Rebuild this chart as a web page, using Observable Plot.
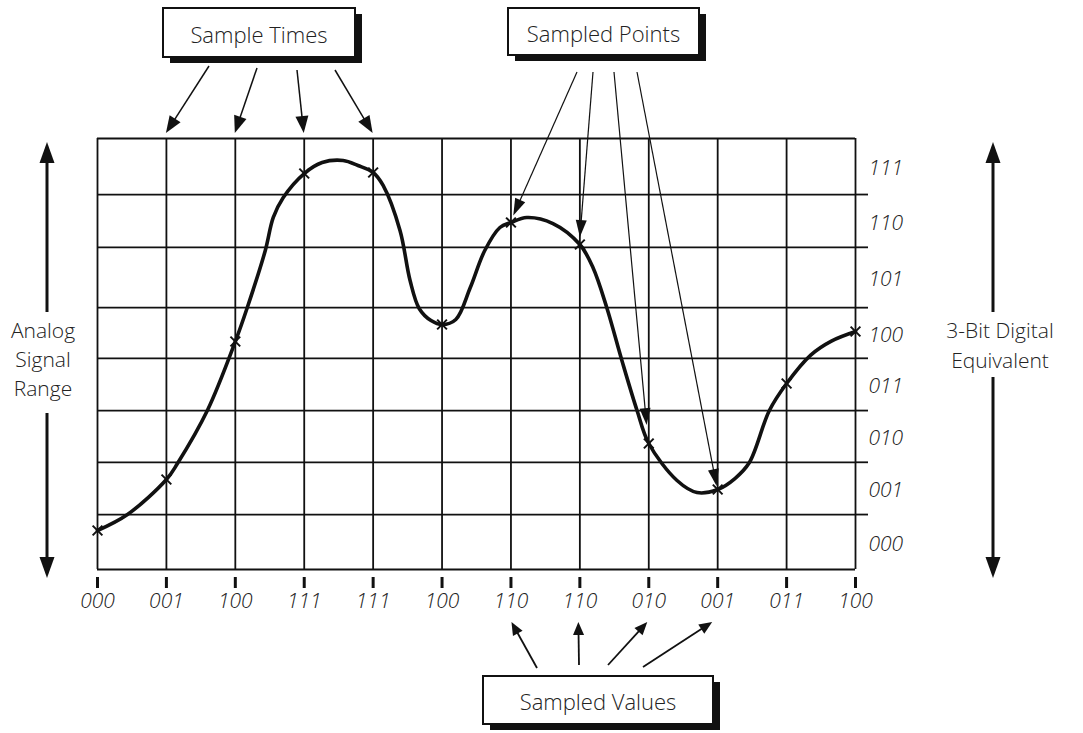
<!DOCTYPE html>
<html>
<head>
<meta charset="utf-8">
<script src="https://cdn.jsdelivr.net/npm/d3@7"></script>
<script src="https://cdn.jsdelivr.net/npm/@observablehq/plot@0.6"></script>
<style>
  html, body { margin: 0; padding: 0; background: #fff; }
  #chart svg { display: block; }
</style>
</head>
<body>
<div id="chart"></div>
<script>
// ---------------- data ----------------
const sampleTimes  = [0, 1, 2, 3, 4, 5, 6, 7, 8, 9, 10, 11];
const sampleValues = [0.724, 1.670, 4.232, 7.350, 7.369, 4.547, 6.441, 6.032, 2.339, 1.485, 3.452, 4.418];
const sampleCodes  = ["000", "001", "100", "111", "111", "100", "110", "110", "010", "001", "011", "100"];

const levelEdges = [0, 1.02, 1.99, 2.95, 3.92, 4.86, 5.98, 6.96, 8];
const levelCodes = ["000", "001", "010", "011", "100", "101", "110", "111"];

const curveTimes  = [0, 0.435, 1, 1.16, 1.594, 2, 2.174, 2.435, 2.551, 2.696, 3, 3.26, 3.565, 3.78, 4,
                     4.145, 4.39, 4.536, 4.67, 4.84, 5, 5.2, 5.41, 5.62, 5.84, 6, 6.23, 6.61, 7, 7.19, 7.39,
                     7.61, 7.83, 8, 8.41, 8.70, 9, 9.25, 9.46, 9.75, 10, 10.35, 10.65, 11];
const curveValues = [0.724, 1.021, 1.670, 1.967, 2.951, 4.232, 4.863, 5.921, 6.534, 6.905, 7.350, 7.554, 7.592, 7.499, 7.369,
                     7.128, 6.292, 5.364, 4.84, 4.62, 4.547, 4.64, 5.234, 5.921, 6.348, 6.441, 6.534, 6.422, 6.032, 5.605, 4.863,
                     3.879, 2.951, 2.339, 1.652, 1.429, 1.485, 1.689, 1.986, 2.951, 3.452, 3.98, 4.24, 4.418];

const timeArrowSamples  = [1, 2, 3, 4];   // samples pointed at by "Sample Times"
const pointArrowSamples = [6, 7, 8, 9];   // samples pointed at by "Sampled Points" / "Sampled Values"
const boxLabels  = ["Sample Times", "Sampled Points", "Sampled Values"];
const leftLabel  = ["Analog", "Signal", "Range"];
const rightLabel = ["3-Bit Digital", "Equivalent"];

// ---------------- derived tables ----------------
const samples = sampleTimes.map((t, i) => ({t, v: sampleValues[i], code: sampleCodes[i]}));
const curve = curveTimes.map((t, i) => ({t, v: curveValues[i]}));
const bands = levelCodes.map((code, i) => ({code, mid: (levelEdges[i] + levelEdges[i + 1]) / 2}));
const innerEdges = levelEdges.slice(1, -1);

const FONT = "'Open Sans', 'DejaVu Sans', sans-serif";
const INK = "#111";
const TXT = "#222";

function arrow(g, x1, y1, x2, y2, len, w, sw) {
  const dx = x2 - x1, dy = y2 - y1, L = Math.hypot(dx, dy), ux = dx / L, uy = dy / L;
  const bx = x2 - ux * len, by = y2 - uy * len;
  g.append("line").attr("x1", x1).attr("y1", y1).attr("x2", bx + ux).attr("y2", by + uy)
    .attr("stroke", INK).attr("stroke-width", sw);
  g.append("path")
    .attr("d", `M${x2},${y2}L${bx - uy * w / 2},${by + ux * w / 2}L${bx + uy * w / 2},${by - ux * w / 2}Z`)
    .attr("fill", INK);
}

function label(g, x, y, s, size) {
  g.append("text").attr("x", x).attr("y", y).attr("text-anchor", "middle")
    .attr("dominant-baseline", "central").attr("font-size", size).attr("font-family", FONT)
    .attr("font-weight", 300).attr("fill", TXT).text(s);
}

function box(g, b, s) {
  g.append("rect").attr("x", b.x + 7).attr("y", b.y + 6).attr("width", b.w).attr("height", b.h).attr("fill", INK);
  g.append("rect").attr("x", b.x).attr("y", b.y).attr("width", b.w).attr("height", b.h)
    .attr("fill", "white").attr("stroke", INK).attr("stroke-width", 2);
  label(g, b.x + b.w / 2, b.y + b.h / 2 + 1, s, 22);
}

function annotations(index, scales) {
  const {x, y} = scales;
  const g = d3.create("svg:g");
  const layout = [
    {x: 163, y: 8, w: 192, h: 49},
    {x: 508, y: 8, w: 191, h: 47},
    {x: 483, y: 676, w: 230, h: 48}
  ];
  layout.forEach((b, i) => box(g, b, boxLabels[i]));

  // Sample Times arrows -> top of each sample line
  const stStarts = [[209, 66], [257, 68], [297, 70], [335, 70]];
  timeArrowSamples.forEach((k, i) => {
    arrow(g, stStarts[i][0], stStarts[i][1], x(sampleTimes[k]), y(levelEdges[8]) - 5, 17, 13, 1.5);
  });

  // Sampled Points arrows -> sampled points
  const spStarts = [[577, 72], [593, 72], [614, 72], [637, 72]];
  const spGap = [7, 7, 18, 3];
  pointArrowSamples.forEach((k, i) => {
    const px = x(sampleTimes[k]), py = y(sampleValues[k]);
    const [sx, sy] = spStarts[i];
    const L = Math.hypot(px - sx, py - sy);
    arrow(g, sx, sy, px - (px - sx) / L * spGap[i], py - (py - sy) / L * spGap[i], 17, 11, 1.2);
  });

  // Sampled Values arrows -> sample codes
  const svStarts = [[537, 668], [579, 665], [608, 665], [643, 667]];
  const svDx = [1, -1, -1, -5];
  pointArrowSamples.forEach((k, i) => {
    arrow(g, svStarts[i][0], svStarts[i][1], x(sampleTimes[k]) + svDx[i], y(levelEdges[0]) + 53, 13, 11, 1.8);
  });

  // side double arrows + labels
  const top = y(levelEdges[8]) + 4, bottom = y(levelEdges[0]) + 9;
  arrow(g, 47, 312, 47, top, 21, 15, 3);
  arrow(g, 47, 413, 47, bottom, 21, 15, 3);
  arrow(g, 993, 312, 993, top, 21, 15, 3);
  arrow(g, 993, 377, 993, bottom, 21, 15, 3);
  leftLabel.forEach((s, i) => label(g, 43, 330 + i * 29, s, 21));
  rightLabel.forEach((s, i) => label(g, 1000, 330 + i * 30, s, 21));
  return g.node();
}

const chart = Plot.plot({
  width: 1083,
  height: 733,
  marginLeft: 97,
  marginRight: 228,
  marginTop: 138,
  marginBottom: 164,
  x: {domain: [0, 11]},
  y: {domain: [0, 8]},
  style: {fontFamily: FONT, background: "white", color: INK, overflow: "visible"},
  marks: [
    Plot.ruleX(sampleTimes, {stroke: INK, strokeWidth: 1.8}),
    Plot.ruleY(levelEdges, {stroke: INK, strokeWidth: 1.8}),
    Plot.axisY({anchor: "right", ticks: innerEdges, tickSize: 12, strokeWidth: 1.8, tickFormat: () => "", label: null}),
    Plot.axisX({ticks: sampleTimes, tickSize: 11, dy: 8, strokeWidth: 3, tickFormat: () => "", label: null}),
    Plot.text(samples, {x: "t", frameAnchor: "bottom", dy: 38, text: "code", fontSize: 21, fontStyle: "italic", fontWeight: 300, fill: TXT}),
    Plot.text(bands, {y: "mid", frameAnchor: "right", dx: 13, dy: 2, textAnchor: "start", text: "code", fontSize: 21, fontStyle: "italic", fontWeight: 300, fill: TXT}),
    Plot.line(curve, {x: "t", y: "v", curve: "catmull-rom", stroke: INK, strokeWidth: 3.6, strokeLinejoin: "round"}),
    Plot.dot(samples, {x: "t", y: "v", symbol: "times", r: 4.5, stroke: INK, strokeWidth: 2}),
    annotations
  ]
});
document.getElementById("chart").appendChild(chart);
</script>
</body>
</html>
